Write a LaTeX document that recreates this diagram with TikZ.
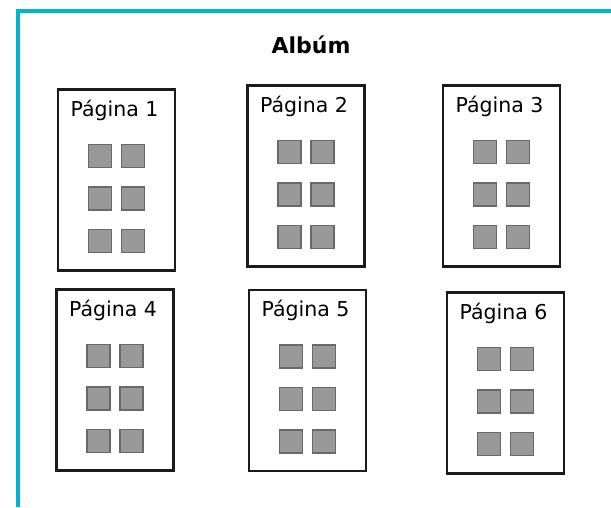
\documentclass[tikz,border=0pt]{standalone}
\usepackage{fontspec}
\setmainfont{DejaVu Sans}
\usepackage{tikz}
\usetikzlibrary{positioning,calc}
\definecolor{FrameCyan}{RGB}{0,180,204}
\definecolor{PageInk}{RGB}{26,26,26}
\definecolor{PhotoFill}{RGB}{153,153,153}
\definecolor{PhotoEdge}{RGB}{105,105,105}
\tikzset{
  frame/.style={draw=FrameCyan,line width=4pt,line join=miter},
  page/.style={draw=PageInk,line width=2.5pt,fill=white,minimum width=117pt,
    minimum height=181pt,inner sep=0pt},
  pagetitle/.style={anchor=base,inner sep=0pt,font=\fontsize{20.5}{24}\selectfont},
}
\tikzset{photo/.style={draw=PhotoEdge,fill=PhotoFill,line width=1.6pt,minimum size=23pt,inner sep=0pt},
  albumtitle/.style={anchor=base,inner sep=0pt,font=\fontsize{22}{26}\selectfont\bfseries}}

\begin{document}
\begin{tikzpicture}[x=1pt,y=-1pt]
\useasboundingbox (0,0) rectangle (611,507);
\draw[frame] (18,507) -- (18,10.7) -- (611,10.7);
\node[albumtitle] (album) at (311,53.3) {Albúm};
% pages: number / centre x / centre y
\foreach \i/\cx/\cy in {1/116.5/180,2/306/176,3/501.5/176,4/115/380,5/307.5/380.5,6/505.5/383}{
  \node[page] (p\i) at (\cx,\cy) {};
  \node[pagetitle] (p\i t) at ($(p\i.north)+(-2,28)$) {Página \i};
  \foreach \r/\dy in {1/-24,2/18.5,3/61}{
    \node[photo] (p\i s\r a) at ($(p\i.center)+(-16.5,\dy)$) {};
    \node[photo] (p\i s\r b) at ($(p\i.center)+(16.5,\dy)$) {};
  }
}
\end{tikzpicture}
\end{document}
